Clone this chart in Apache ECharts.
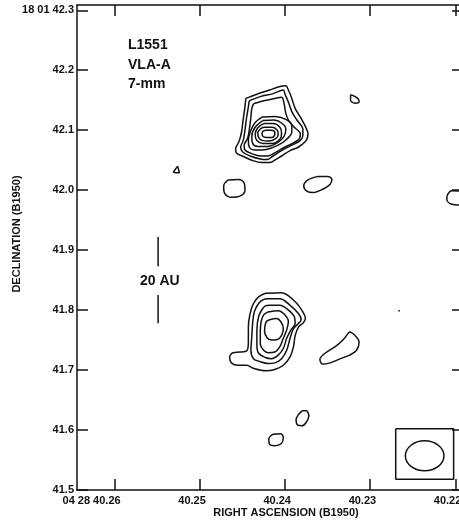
<!DOCTYPE html>
<html>
<head>
<meta charset="utf-8">
<script src="https://cdn.jsdelivr.net/npm/echarts@6/dist/echarts.min.js"></script>
<style>
  html, body { margin: 0; padding: 0; background: #fff; }
  #chart { width: 459px; height: 521px; }
</style>
</head>
<body>
<div id="chart"></div>
<script>
// offsets: RA in ms of time from 04 28 40.24, Dec in mas from 18 01 42.0
const RA0 = 40.24;
const DEC0 = 42.0;
const RA_MIN = 40.2191;
const RA_MAX = 40.26442;
const DEC_MIN = 41.5;
const DEC_MAX = 42.3088;

const raTicks = [40.26, 40.25, 40.24, 40.23, 40.22];
const raTickLabels = ['04 28 40.26', '40.25', '40.24', '40.23', '40.22'];
const decTicks = [41.5, 41.6, 41.7, 41.8, 41.9, 42.0, 42.1, 42.2, 42.3];
const decTickLabels = ['41.5', '41.6', '41.7', '41.8', '41.9', '42.0', '42.1', '42.2', '18 01 42.3'];

const titleLines = ['L1551', 'VLA-A', '7-mm'];

// northern source (8 levels)
const northC1 = [[4.6,153],[3.3,160],[1.8,167],[0.8,172],[-0.1,174],[-0.4,167],[-0.8,153],[-1.2,136],[-1.8,122],[-2.4,106],[-2.7,94],[-2.5,83],[-1.6,72],[-0.6,66],[0.4,57],[1.2,50],[1.8,46],[2.7,46],[3.9,50],[5.0,57],[5.7,62],[5.8,69],[5.4,81],[5.1,97],[4.9,119],[4.7,139]];
const northC2 = [[4.2,149],[2.9,156],[1.4,161],[0.2,167],[0.0,160],[-0.4,147],[-0.8,131],[-1.4,117],[-2.1,101],[-2.1,92],[-1.8,83],[-0.8,75],[0.4,66],[1.4,57],[2.1,51],[2.9,52],[4.1,57],[5.0,64],[5.2,72],[4.9,83],[4.7,100],[4.5,122],[4.3,139]];
const northC3 = [[3.7,144],[2.5,149],[1.2,153],[0.4,155],[0.1,144],[-0.1,128],[-0.4,117],[-1.0,106],[-1.8,94],[-1.7,86],[-1.0,79],[0.0,72],[1.0,64],[2.0,57],[2.9,57],[3.9,61],[4.7,67],[4.8,75],[4.4,86],[4.2,100],[4.0,122],[3.9,136]];
const northC4 = [[2.7,122],[1.2,123],[-0.1,118],[-0.8,108],[-0.8,97],[-0.2,85],[0.8,75],[2.2,68],[3.5,67],[4.2,72],[4.3,83],[4.0,100],[3.5,113]];
const northC5 = [[2.6,116],[1.3,117],[0.4,112],[-0.1,102],[0.1,90],[0.8,80],[2.0,73],[3.2,73],[3.8,78],[3.9,90],[3.5,105]];
const northC6 = [[2.5,111],[1.4,111],[0.6,105],[0.4,95],[0.6,85],[1.5,78],[2.6,78],[3.3,83],[3.5,93],[3.2,104]];
const northC7 = [[2.5,105],[1.5,105],[0.9,100],[0.8,93],[1.1,86],[1.9,82],[2.7,83],[3.1,88],[3.2,96],[2.9,102]];
const northC8 = [[2.3,100],[1.6,100],[1.2,97],[1.2,93],[1.5,88],[2.2,88],[2.6,90],[2.7,94],[2.6,98]];

// isolated lowest-level islands
const islandTri = [[12.6,40],[12.4,29],[13.1,30]];
const islandNE = [[-7.7,159],[-8.1,157],[-8.6,152],[-8.7,147],[-8.2,145],[-7.7,150],[-7.7,155]];
const islandW = [[6.7,17],[5.5,18],[4.8,12],[4.7,0],[5.3,-10],[6.3,-12],[7.1,-5],[7.2,7]];
const islandE = [[-3.9,23],[-5.0,23],[-5.5,18],[-5.3,10],[-4.5,2],[-3.3,-4],[-2.6,-2],[-2.2,7],[-2.7,17]];
const islandEdge = [[-20.8,-2],[-19.6,-1],[-19.1,-7],[-19.0,-15],[-19.5,-23],[-20.8,-25]];

// southern source (5 levels)
const southC1 = [[2.3,-172],[0.4,-171],[-1.2,-186],[-2.1,-203],[-2.4,-214],[-2.1,-222],[-1.6,-228],[-1.2,-242],[-1.0,-261],[-0.6,-278],[0.2,-292],[1.2,-299],[2.3,-301],[3.7,-297],[4.5,-292],[5.5,-292],[6.3,-288],[6.5,-279],[6.1,-271],[5.3,-270],[4.5,-268],[4.3,-253],[4.3,-228],[4.1,-206],[3.7,-189],[3.1,-178]];
const southC2 = [[2.0,-181],[0.6,-181],[-0.6,-192],[-1.6,-206],[-1.9,-216],[-1.6,-222],[-1.0,-231],[-0.6,-247],[-0.2,-267],[0.4,-281],[1.2,-288],[2.0,-289],[2.9,-286],[3.7,-281],[4.0,-267],[3.9,-245],[3.8,-222],[3.6,-203],[3.1,-189],[2.5,-182]];
const southC3 = [[1.8,-192],[0.6,-192],[-0.4,-200],[-1.1,-211],[-1.2,-222],[-0.7,-233],[-0.2,-247],[0.2,-264],[0.8,-275],[1.6,-281],[2.3,-279],[3.1,-272],[3.3,-258],[3.3,-233],[3.1,-211],[2.7,-199],[2.3,-193]];
const southC4 = [[2.0,-203],[0.8,-201],[0.0,-208],[-0.4,-219],[-0.2,-233],[0.2,-247],[0.6,-261],[1.2,-270],[2.0,-271],[2.5,-267],[2.9,-256],[2.9,-236],[2.8,-219],[2.5,-208]];
const southC5 = [[1.8,-216],[1.0,-214],[0.5,-219],[0.2,-231],[0.4,-242],[0.9,-249],[1.6,-250],[2.1,-246],[2.4,-235],[2.3,-223],[2.1,-218]];
const islandSE = [[-7.6,-236],[-8.2,-242],[-8.7,-253],[-8.4,-267],[-7.6,-275],[-6.5,-281],[-5.3,-288],[-4.4,-290],[-4.1,-282],[-4.7,-272],[-5.9,-261],[-6.8,-250],[-7.4,-239]];
const islandS1 = [[-2.0,-368],[-2.5,-368],[-2.8,-376],[-2.5,-387],[-2.0,-393],[-1.5,-392],[-1.3,-383],[-1.6,-374]];
const islandS2 = [[1.4,-407],[0.5,-406],[0.2,-413],[0.4,-422],[1.2,-426],[1.8,-424],[1.9,-415]];
const specks = [[-13.4,-201]];

// 20 AU scale bar, beam
const scaleBarTop = [[14.9,-78],[14.9,-127]];
const scaleBarBottom = [[14.9,-175],[14.9,-222]];
const scaleLabel = { text: '20 AU', at: [14.7,-152] };
const beamBox = [[-13.0,-398],[-19.8,-398],[-19.8,-482],[-13.0,-482]];
const beamCenter = [-16.4,-443];
const beamSize = [4.53, 50]; // full width (ms), full height (mas)

const FONT = '"Liberation Sans", Arial, Helvetica, sans-serif';
const INK = '#111';

function toSky(p) {
  return [RA0 + p[0] / 1000, DEC0 + p[1] / 1000];
}
function closed(arr) {
  return arr.concat([arr[0]]).map(toSky);
}

const closedContours = [
  northC1, northC2, northC3, northC4, northC5, northC6, northC7, northC8,
  islandTri, islandNE, islandW, islandE,
  southC1, southC2, southC3, southC4, southC5,
  islandSE, islandS1, islandS2
];

function contourSeries(data, smooth) {
  return {
    type: 'line',
    data: data,
    showSymbol: false,
    smooth: smooth,
    silent: true,
    clip: true,
    lineStyle: { color: INK, width: 1.5 }
  };
}

const series = closedContours.map(c => contourSeries(closed(c), 0.35));
series.push(contourSeries(islandEdge.map(toSky), 0.35));
series.push(contourSeries(closed(beamBox), false));
series.push(contourSeries(scaleBarTop.map(toSky), false));
series.push(contourSeries(scaleBarBottom.map(toSky), false));
series.push({
  type: 'scatter',
  data: specks.map(toSky),
  symbolSize: 2,
  silent: true,
  itemStyle: { color: INK }
});

function axisCommon(pos) {
  return {
    position: pos,
    axisLine: { show: true, onZero: false, lineStyle: { color: INK, width: 1.5 } },
    axisTick: { show: true, inside: true, length: 11, lineStyle: { color: INK, width: 1.5 } },
    splitLine: { show: false }
  };
}

const chart = echarts.init(document.getElementById('chart'), null, { renderer: 'canvas' });

const option = {
  animation: false,
  backgroundColor: '#fff',
  grid: { left: 77, top: 5, width: 386, height: 485, outerBoundsMode: 'none', containLabel: false },
  xAxis: [
    Object.assign(axisCommon('bottom'), {
      type: 'value', min: RA_MIN, max: RA_MAX, inverse: true,
      axisLabel: { show: false }
    }),
    Object.assign(axisCommon('top'), {
      type: 'value', min: RA_MIN, max: RA_MAX, inverse: true,
      axisLabel: { show: false }
    })
  ],
  yAxis: [
    Object.assign(axisCommon('left'), {
      type: 'value', min: DEC_MIN, max: DEC_MAX,
      axisLabel: {
        show: true,
        margin: 3,
        customValues: decTicks,
        color: INK,
        fontFamily: FONT,
        fontWeight: 'bold',
        fontSize: 11,
        formatter: v => {
          const i = decTicks.findIndex(t => Math.abs(t - v) < 1e-6);
          return i < 0 ? '' : decTickLabels[i];
        }
      }
    }),
    Object.assign(axisCommon('right'), {
      type: 'value', min: DEC_MIN, max: DEC_MAX,
      axisLabel: { show: false }
    })
  ],
  series: series
};
option.xAxis.forEach(a => { a.axisTick.customValues = raTicks; });
option.yAxis.forEach(a => { a.axisTick.customValues = decTicks; });

chart.setOption(option);

// annotations placed through the chart's own coordinate system
const graphic = [];
raTicks.forEach((v, i) => {
  const x = chart.convertToPixel({ xAxisIndex: 0 }, v);
  graphic.push({
    type: 'text', silent: true,
    style: {
      text: raTickLabels[i], x: x + 6, y: 501,
      align: 'right', verticalAlign: 'middle',
      textAlign: 'right', textVerticalAlign: 'middle',
      font: 'bold 11px ' + FONT, fill: INK
    }
  });
});
graphic.push({
  type: 'text', silent: true,
  style: {
    text: 'RIGHT ASCENSION (B1950)', x: 286, y: 513,
    align: 'center', verticalAlign: 'middle',
    textAlign: 'center', textVerticalAlign: 'middle',
    font: 'bold 11px ' + FONT, fill: INK
  }
});
graphic.push({
  type: 'text', silent: true, x: 17, y: 234, rotation: Math.PI / 2,
  style: {
    text: 'DECLINATION (B1950)', x: 0, y: 0,
    align: 'center', verticalAlign: 'middle',
    textAlign: 'center', textVerticalAlign: 'middle',
    font: 'bold 11px ' + FONT, fill: INK
  }
});
[45, 65, 84].forEach((y, i) => {
  graphic.push({
    type: 'text', silent: true,
    style: {
      text: titleLines[i], x: 128, y: y,
      align: 'left', verticalAlign: 'middle',
      textAlign: 'left', textVerticalAlign: 'middle',
      font: 'bold 14px ' + FONT, fill: INK
    }
  });
});
const lblPt = chart.convertToPixel('grid', toSky(scaleLabel.at));
graphic.push({
  type: 'text', silent: true,
  style: {
    text: scaleLabel.text, x: lblPt[0], y: lblPt[1],
    align: 'center', verticalAlign: 'middle',
    textAlign: 'center', textVerticalAlign: 'middle',
    font: 'bold 14px ' + FONT, fill: INK
  }
});
const bc = chart.convertToPixel('grid', toSky(beamCenter));
const bEdge = chart.convertToPixel('grid', toSky([beamCenter[0] + beamSize[0] / 2, beamCenter[1] + beamSize[1] / 2]));
graphic.push({
  type: 'ellipse', silent: true,
  shape: { cx: bc[0], cy: bc[1], rx: Math.abs(bEdge[0] - bc[0]), ry: Math.abs(bEdge[1] - bc[1]) },
  style: { fill: 'none', stroke: INK, lineWidth: 1.5 }
});

chart.setOption({ graphic: graphic });
</script>
</body>
</html>
